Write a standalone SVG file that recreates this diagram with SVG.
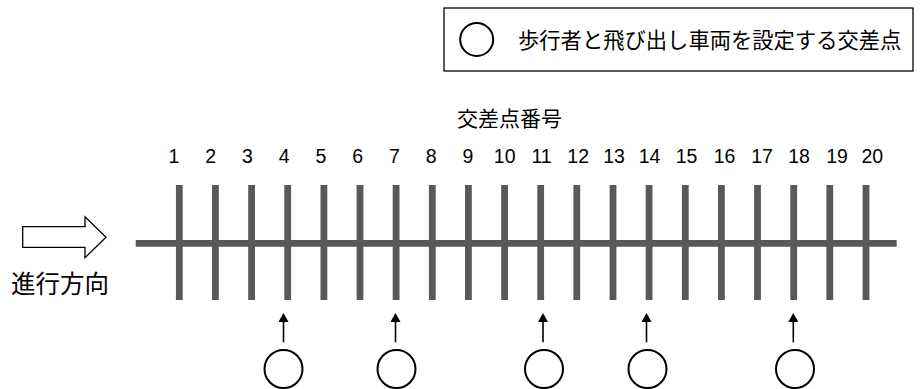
<svg xmlns="http://www.w3.org/2000/svg" width="922" height="389" viewBox="0 0 922 389">
<style>
.road{stroke:#595959;stroke-width:6.8;fill:none}
.num{font-family:"Liberation Sans",Arial,sans-serif;font-size:19.5px;fill:#000;text-anchor:middle}
.jp{font-family:"Noto Sans CJK JP","Noto Sans CJK SC",sans-serif;fill:#000}
.mark{fill:none;stroke:#000;stroke-width:2}
.ptr{stroke:#000;stroke-width:1.6;fill:none}
</style>
<defs>
<marker id="ah" markerWidth="12" markerHeight="10" refX="0" refY="5" orient="auto" markerUnits="userSpaceOnUse">
<path d="M0,0 L9,5 L0,10 Z" fill="#000"/>
</marker>
</defs>
<rect width="922" height="389" fill="#fff"/>
<g id="legend">
<rect x="444" y="8" width="469" height="63" fill="#fff" stroke="#000" stroke-width="1.3"/>
<circle class="mark" cx="476.7" cy="39.5" r="16.5"/>
<text class="jp" x="518" y="48" font-size="21.3">歩行者と飛び出し車両を設定する交差点</text>
</g>
<g id="title">
<text class="jp" x="457" y="126" font-size="21">交差点番号</text>
</g>
<g id="direction">
<path d="M22.7,226.7 H85 V216.7 L106,237.3 L85,257.7 V247.3 H22.7 Z" fill="#fff" stroke="#000" stroke-width="1.3"/>
<text class="jp" x="11" y="293" font-size="24.5">進行方向</text>
</g>
<g id="numbers">
<text class="num" x="174" y="162.7">1</text>
<text class="num" x="210.7" y="162.7">2</text>
<text class="num" x="247.5" y="162.7">3</text>
<text class="num" x="284.2" y="162.7">4</text>
<text class="num" x="321" y="162.7">5</text>
<text class="num" x="357.8" y="162.7">6</text>
<text class="num" x="394.5" y="162.7">7</text>
<text class="num" x="431.2" y="162.7">8</text>
<text class="num" x="468" y="162.7">9</text>
<text class="num" x="504.7" y="162.7">10</text>
<text class="num" x="541.5" y="162.7">11</text>
<text class="num" x="578.2" y="162.7">12</text>
<text class="num" x="614" y="162.7">13</text>
<text class="num" x="649.5" y="162.7">14</text>
<text class="num" x="686.5" y="162.7">15</text>
<text class="num" x="724.5" y="162.7">16</text>
<text class="num" x="762" y="162.7">17</text>
<text class="num" x="799" y="162.7">18</text>
<text class="num" x="837" y="162.7">19</text>
<text class="num" x="872.3" y="162.7">20</text>
</g>
<g id="road">
<line class="road" x1="135.7" y1="243.3" x2="896.7" y2="243.3"/>
<line class="road" x1="179.3" y1="185" x2="179.3" y2="300"/>
<line class="road" x1="215.4" y1="185" x2="215.4" y2="300"/>
<line class="road" x1="251.6" y1="185" x2="251.6" y2="300"/>
<line class="road" x1="287.7" y1="185" x2="287.7" y2="300"/>
<line class="road" x1="323.9" y1="185" x2="323.9" y2="300"/>
<line class="road" x1="360" y1="185" x2="360" y2="300"/>
<line class="road" x1="396.1" y1="185" x2="396.1" y2="300"/>
<line class="road" x1="432.3" y1="185" x2="432.3" y2="300"/>
<line class="road" x1="468.4" y1="185" x2="468.4" y2="300"/>
<line class="road" x1="504.6" y1="185" x2="504.6" y2="300"/>
<line class="road" x1="540.7" y1="185" x2="540.7" y2="300"/>
<line class="road" x1="576.8" y1="185" x2="576.8" y2="300"/>
<line class="road" x1="613" y1="185" x2="613" y2="300"/>
<line class="road" x1="649.1" y1="185" x2="649.1" y2="300"/>
<line class="road" x1="685.3" y1="185" x2="685.3" y2="300"/>
<line class="road" x1="721.4" y1="185" x2="721.4" y2="300"/>
<line class="road" x1="757.5" y1="185" x2="757.5" y2="300"/>
<line class="road" x1="793.7" y1="185" x2="793.7" y2="300"/>
<line class="road" x1="829.8" y1="185" x2="829.8" y2="300"/>
<line class="road" x1="866" y1="185" x2="866" y2="300"/>
</g>
<g id="connectors">
<line class="ptr" x1="283.5" y1="342.3" x2="283.5" y2="322" marker-end="url(#ah)"/>
<line class="ptr" x1="395.5" y1="342.3" x2="395.5" y2="322" marker-end="url(#ah)"/>
<line class="ptr" x1="543" y1="342.3" x2="543" y2="322" marker-end="url(#ah)"/>
<line class="ptr" x1="646.5" y1="342.3" x2="646.5" y2="322" marker-end="url(#ah)"/>
<line class="ptr" x1="793.3" y1="342.3" x2="793.3" y2="322" marker-end="url(#ah)"/>
</g>
<g id="site4"><circle class="mark" cx="283.5" cy="369" r="19"/></g>
<g id="site7"><circle class="mark" cx="396.5" cy="369" r="19"/></g>
<g id="site11"><circle class="mark" cx="544" cy="369" r="19"/></g>
<g id="site14"><circle class="mark" cx="647.5" cy="369" r="19"/></g>
<g id="site18"><circle class="mark" cx="795" cy="369" r="19"/></g>
</svg>
